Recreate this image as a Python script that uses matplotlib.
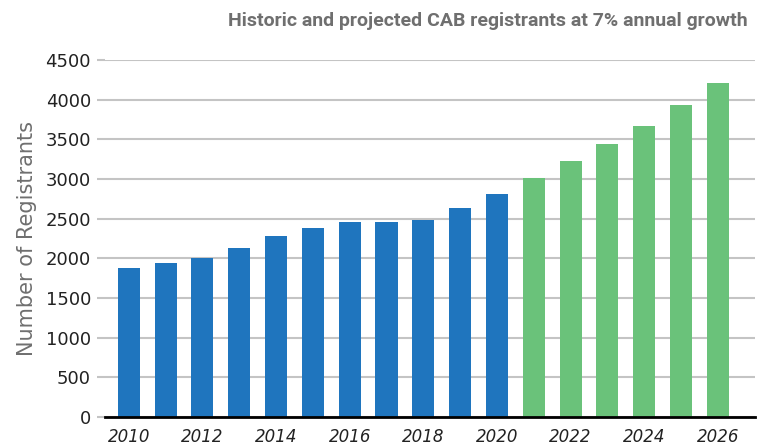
import matplotlib

matplotlib.use("Agg")
import matplotlib.pyplot as plt

# historic (blue) and projected at 7% growth (green)
hist_years = list(range(2010, 2021))
hist_values = [1879, 1942, 2005, 2131, 2282, 2383, 2459, 2455, 2484, 2635, 2812]
proj_years = list(range(2021, 2027))
proj_values = [3014, 3228, 3443, 3670, 3934, 4212]

y_ticks = list(range(0, 4501, 500))
x_ticks = list(range(2010, 2027, 2))

BLUE = "#1f75be"
GREEN = "#6ac27a"
GRAY = "#6f6f6f"

fig = plt.figure(figsize=(7.6, 4.47), dpi=100)
ax = fig.add_axes([0.138, 0.067, 0.855, 0.799])

ax.bar(hist_years, hist_values, width=0.6, color=BLUE, zorder=3)
ax.bar(proj_years, proj_values, width=0.6, color=GREEN, zorder=3)

ax.set_ylim(0, 4500)
ax.set_xlim(2010 - 0.65, 2026 + 1.0)
ax.set_yticks(y_ticks)
ax.set_xticks(x_ticks)
ax.set_yticklabels([str(v) for v in y_ticks], fontsize=13, color="#222222")
ax.set_xticklabels([str(v) for v in x_ticks], fontsize=12, style="italic",
                   color="#222222")
ax.tick_params(axis="y", length=6, color="#c4c4c4", width=1.5, pad=4)
ax.tick_params(axis="x", length=0, pad=8)

ax.yaxis.grid(True, color="#c4c4c4", linewidth=1.5, zorder=0)
for side in ("top", "right", "left"):
    ax.spines[side].set_visible(False)
ax.spines["bottom"].set_color("black")
ax.spines["bottom"].set_linewidth(2)
ax.spines["bottom"].set_zorder(4)

ax.set_ylabel("Number of Registrants", fontsize=15, color=GRAY, labelpad=6)

fig.text(0.984, 0.952, "Historic and projected CAB registrants at 7% annual growth",
         ha="right", va="center", fontsize=14, fontweight="bold", color=GRAY,
         family=["Roboto", "DejaVu Sans"], fontstretch="condensed")

fig.savefig("out.png", dpi=100)
